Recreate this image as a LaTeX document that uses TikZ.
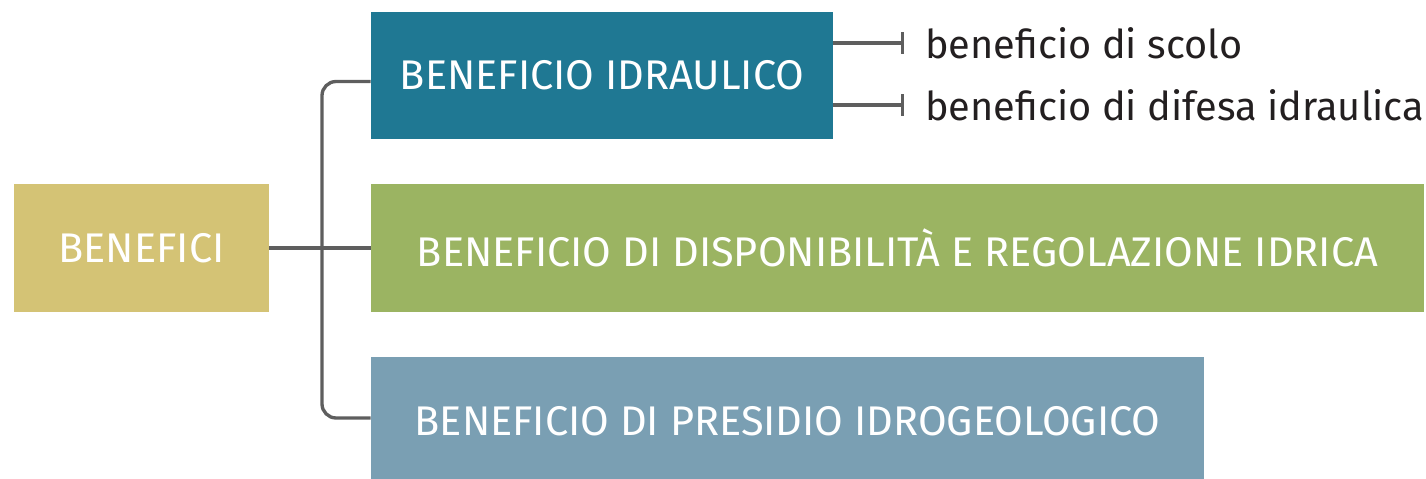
\documentclass[tikz,border=0pt]{standalone}
\usepackage{fontspec}
\setmainfont{Fira Sans}
\usetikzlibrary{calc,arrows.meta}
\definecolor{sand}{HTML}{D4C375}
\definecolor{teal}{HTML}{1F7893}
\definecolor{olive}{HTML}{9BB462}
\definecolor{steel}{HTML}{7A9FB3}
\definecolor{wire}{HTML}{5E5E5E}
\definecolor{ink}{HTML}{231F20}
\tikzset{
  box/.style={rectangle, inner sep=0pt, text=white, font=\fontsize{23.6}{27}\selectfont},
  conn/.style={draw=wire, line width=1.9pt, rounded corners=8pt},
  tee/.style={draw=wire, line width=1.9pt, -{Bar[width=12pt,line width=1.6pt]}},
  lab/.style={text=ink, anchor=west, inner sep=0pt, font=\fontsize{22.6}{26}\selectfont},
}
\begin{document}
\begin{tikzpicture}[x=0.02cm,y=-0.02cm]
  \useasboundingbox (0,0) rectangle (1426,479);
  \clip (0,0) rectangle (1426,479);
  % boxes
  \node[box, fill=sand, minimum width=5.1cm, minimum height=2.56cm] (benefici) at (141.5,248) {BENEFICI};
  \node[box, fill=teal, minimum width=9.24cm, minimum height=2.54cm] (idraulico) at (602,75.5) {BENEFICIO IDRAULICO};
  \node[box, fill=olive, minimum width=21.06cm, minimum height=2.56cm] (disponib) at (897.5,248) {BENEFICIO DI DISPONIBILITÀ E REGOLAZIONE IDRICA};
  \node[box, fill=steel, minimum width=16.66cm, minimum height=2.56cm] (presidio) at (787.5,421) {BENEFICIO DI PRESIDIO IDROGEOLOGICO};
  % tree
  \coordinate (trunk) at (322,248);
  \draw[conn] (benefici.east) -- (disponib.west);
  \draw[conn] ($(idraulico.west)+(0,6)$) -| (trunk) |- ($(presidio.west)+(0,-3)$);
  % sub items
  \coordinate (s1) at (904,43);
  \coordinate (s2) at (904,105);
  \draw[tee] (idraulico.east |- s1) -- (s1);
  \draw[tee] (idraulico.east |- s2) -- (s2);
  \node[lab] (scolo) at (925,43) {beneficio di scolo};
  \node[lab] (difesa) at (925,105) {beneficio di difesa idraulica};
\end{tikzpicture}
\end{document}
